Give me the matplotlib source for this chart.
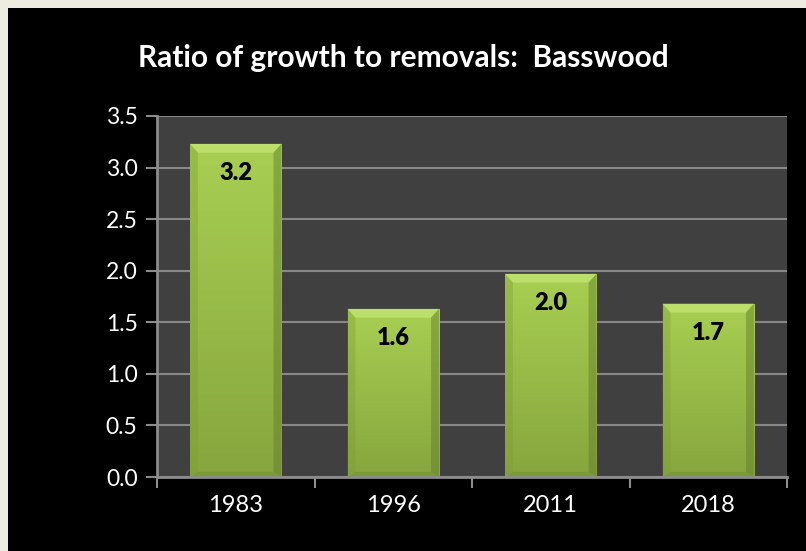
import numpy as np
import matplotlib.pyplot as plt
from matplotlib.patches import Rectangle, Polygon
from matplotlib.colors import LinearSegmentedColormap

plt.rcParams['font.family'] = ['Lato', 'DejaVu Sans']

# growth / removals ratio by survey year
years = ['1983', '1996', '2011', '2018']
ratios = [3.23, 1.63, 1.97, 1.68]

fig = plt.figure(figsize=(8.06, 5.51), dpi=100)
fig.patch.set_facecolor('#eeebe0')
# black slide panel inside the light border
fig.patches.append(Rectangle((8 / 806, 0), 1, 1 - 8 / 551, transform=fig.transFigure,
                             facecolor='black', edgecolor='none', zorder=-5))

ax = fig.add_axes([157 / 806, 74 / 551, 630 / 806, 361 / 551])
ax.set_zorder(2)
ax.set_facecolor('#404040')

x = np.arange(len(years))
bw = 0.58
bars = ax.bar(x, ratios, width=bw, color='#9cc24a', zorder=3)

# gradient fill and bevel for each bar
grad = LinearSegmentedColormap.from_list('grn', ['#87a63e', '#a8cf52'])
dx, dy = 0.05, 0.085
for b in bars:
    x0, w, h = b.get_x(), b.get_width(), b.get_height()
    im = ax.imshow(np.linspace(0, 1, 100).reshape(-1, 1), cmap=grad, origin='lower',
                   extent=(x0, x0 + w, 0, h), aspect='auto', zorder=4)
    im.set_clip_path(b)
    top = Polygon([(x0, h), (x0 + w, h), (x0 + w - dx, h - dy), (x0 + dx, h - dy)],
                  closed=True, facecolor='#c4e676', edgecolor='none', alpha=0.75, zorder=5)
    left = Polygon([(x0, h), (x0 + dx, h - dy), (x0 + dx, 0.05), (x0, 0)],
                   closed=True, facecolor='#7c9a36', edgecolor='none', alpha=0.35, zorder=5)
    right = Polygon([(x0 + w, h), (x0 + w - dx, h - dy), (x0 + w - dx, 0.05), (x0 + w, 0)],
                    closed=True, facecolor='#60792a', edgecolor='none', alpha=0.45, zorder=5)
    bottom = Polygon([(x0, 0), (x0 + w, 0), (x0 + w - dx, 0.05), (x0 + dx, 0.05)],
                     closed=True, facecolor='#728e32', edgecolor='none', alpha=0.5, zorder=5)
    for p in (top, left, right, bottom):
        ax.add_patch(p)
    ax.annotate(f'{h:.1f}', (x0 + w / 2, h), xytext=(0, -21), textcoords='offset points',
                ha='center', va='center', fontsize=17, fontweight='heavy', color='black', zorder=6)

ax.set_xlim(-0.5, 3.5)
ax.set_ylim(0, 3.5)
ax.set_yticks(np.arange(0, 3.51, 0.5))
ax.set_yticklabels([f'{v:.1f}' for v in np.arange(0, 3.51, 0.5)])
ax.set_xticks(x)
ax.set_xticklabels(years)
ax.set_xticks(np.arange(-0.5, 3.6, 1), minor=True)

ax.grid(axis='y', color='#888888', linewidth=1.5, zorder=1)
ax.set_axisbelow(True)
for s in ('top', 'right'):
    ax.spines[s].set_visible(False)
for s in ('left', 'bottom'):
    ax.spines[s].set_color('#8c8c8c')
    ax.spines[s].set_linewidth(2)
    ax.spines[s].set_zorder(7)

ax.tick_params(axis='y', colors='#8c8c8c', labelcolor='white', labelsize=16.5,
               length=8, width=1.5, pad=6)
ax.tick_params(axis='x', which='major', length=0, labelcolor='white', labelsize=17, pad=13)
ax.tick_params(axis='x', which='minor', length=8, width=1.5, color='#8c8c8c')

fig.text(0.5, 1 - 58 / 551, 'Ratio of growth to removals:  Basswood', ha='center', va='center',
         color='white', fontsize=21.5, fontweight='bold')

fig.savefig('out.png', dpi=100, facecolor=fig.get_facecolor())
